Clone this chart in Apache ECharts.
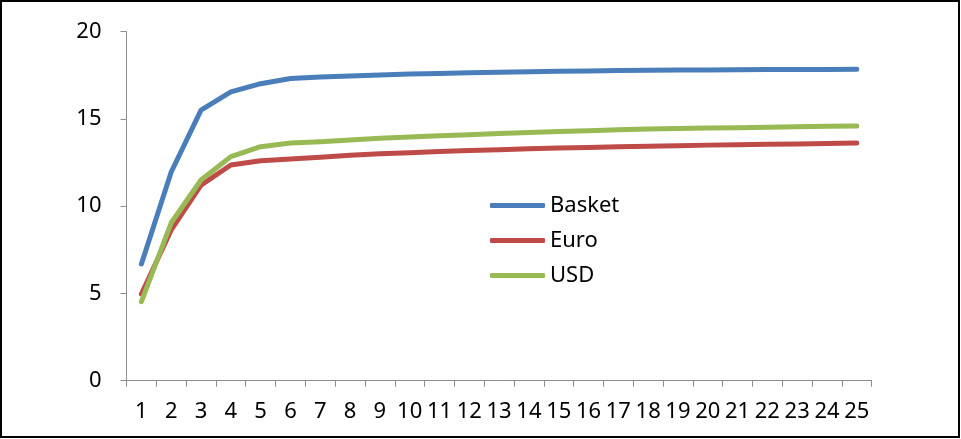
<!DOCTYPE html>
<html>
<head>
<meta charset="utf-8">
<script src="https://cdn.jsdelivr.net/npm/echarts@6/dist/echarts.min.js"></script>
<style>
html,body{margin:0;padding:0;background:#fff;}
#chart{width:961px;height:439px;}
</style>
</head>
<body>
<div id="chart"></div>
<script>
var categories = ['1','2','3','4','5','6','7','8','9','10','11','12','13','14','15','16','17','18','19','20','21','22','23','24','25'];
var seriesNames = ['Basket','Euro','USD'];
var basket = [6.69, 11.96, 15.51, 16.55, 17.02, 17.32, 17.40, 17.46, 17.52, 17.57, 17.61, 17.65, 17.68, 17.71, 17.73, 17.75, 17.77, 17.79, 17.80, 17.81, 17.82, 17.83, 17.84, 17.84, 17.85];
var euro = [4.97, 8.64, 11.21, 12.36, 12.61, 12.70, 12.81, 12.92, 13.00, 13.07, 13.13, 13.19, 13.24, 13.29, 13.33, 13.37, 13.41, 13.44, 13.47, 13.50, 13.52, 13.55, 13.57, 13.60, 13.62];
var usd = [4.53, 9.05, 11.50, 12.84, 13.41, 13.62, 13.70, 13.80, 13.89, 13.97, 14.04, 14.10, 14.16, 14.22, 14.28, 14.33, 14.38, 14.42, 14.45, 14.48, 14.50, 14.53, 14.55, 14.58, 14.60];
var yTicks = [0, 5, 10, 15, 20];
var colors = ['#4A7EBB', '#BE4B48', '#98B954'];

var chart = echarts.init(document.getElementById('chart'), null, {renderer: 'canvas'});
var font = '"Noto Sans", sans-serif';
function mk(name, data, color) {
  return {
    name: name, type: 'line', data: data, symbol: 'none', smooth: false,
    lineStyle: {color: color, width: 5, cap: 'round', join: 'round'},
    itemStyle: {color: color},
    animation: false
  };
}
chart.setOption({
  animation: false,
  textStyle: {fontFamily: font},
  grid: {left: 126.5, right: 89.3, top: 31.7, bottom: 58.3, containLabel: false},
  legend: {
    orient: 'vertical', left: 490, top: 193, padding: 0,
    icon: 'roundRect', itemWidth: 55, itemHeight: 5, itemGap: 10,
    textStyle: {fontFamily: font, fontSize: 22, color: '#000', lineHeight: 25},
    data: seriesNames
  },
  xAxis: {
    type: 'category', data: categories, boundaryGap: true,
    axisLine: {lineStyle: {color: '#8E8E8E', width: 1}},
    axisTick: {show: true, length: 6, interval: 0, lineStyle: {color: '#8E8E8E'}},
    axisLabel: {interval: 0, color: '#000', fontSize: 22, fontFamily: font, margin: 20},
    splitLine: {show: false}
  },
  yAxis: {
    type: 'value', min: yTicks[0], max: yTicks[yTicks.length - 1], interval: 5,
    axisLine: {show: true, lineStyle: {color: '#8E8E8E', width: 1}},
    axisTick: {show: true, length: 6, lineStyle: {color: '#8E8E8E'}},
    axisLabel: {color: '#000', fontSize: 22, fontFamily: font, margin: 25},
    splitLine: {show: false}
  },
  series: [mk(seriesNames[0], basket, colors[0]), mk(seriesNames[1], euro, colors[1]), mk(seriesNames[2], usd, colors[2])],
  graphic: [{
    type: 'rect', silent: true, z: 100,
    shape: {x: 1, y: 1, width: 958, height: 436},
    style: {fill: 'none', stroke: '#000', lineWidth: 2}
  }]
});
</script>
</body>
</html>
